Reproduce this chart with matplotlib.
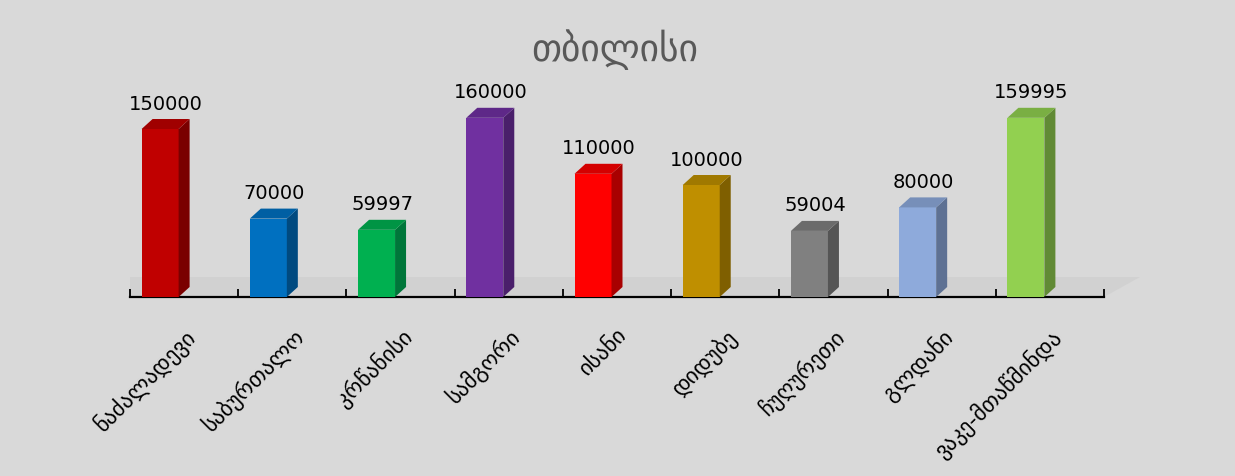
import matplotlib
matplotlib.use('Agg')
import matplotlib.pyplot as plt
from matplotlib.patches import Polygon
import numpy as np

districts = ['ნაძალადევი', 'საბურთალო', 'კრწანისი', 'სამგორი', 'ისანი',
             'დიდუბე', 'ჩუღურეთი', 'გლდანი', 'ვაკე-მთაწმინდა']
values = [150000, 70000, 59997, 160000, 110000, 100000, 59004, 80000, 159995]
front_colors = ['#C00000', '#0070C0', '#00B050', '#7030A0', '#FF0000',
                '#BF8F00', '#808080', '#8EAADB', '#92D050']
side_colors = ['#7A0000', '#004A80', '#00763A', '#4A1F6B', '#A80000',
               '#7F5F00', '#555555', '#5E7193', '#618A35']
top_colors = ['#A00000', '#005FA3', '#009444', '#5E2888', '#D40000',
              '#A07900', '#6B6B6B', '#778FB9', '#7AAF43']

W, H = 1235, 476
fig = plt.figure(figsize=(W / 100, H / 100), dpi=100, facecolor='#D9D9D9')

ax_left, ax_right, ax_bottom, ax_top = 130, 1104, 297, 73
ax = fig.add_axes([ax_left / W, 1 - ax_bottom / H,
                   (ax_right - ax_left) / W, (ax_bottom - ax_top) / H])
ax.set_facecolor('none')
ymax = 200000
ax.set_xlim(-0.5, len(districts) - 0.5)
ax.set_ylim(0, ymax)

# pixel -> data conversion for the fake 3d depth
px_x = len(districts) / (ax_right - ax_left)
px_y = ymax / (ax_bottom - ax_top)
dx, dy = 11 * px_x, 10 * px_y
bw = 37 * px_x
shift = -24 * px_x

# floor
floor = Polygon([(-0.5, 0), (len(districts) - 0.5, 0),
                 (len(districts) - 0.5 + 36 * px_x, 20 * px_y), (-0.5, 20 * px_y)],
                closed=True, facecolor='#D1D1D1', edgecolor='none', zorder=0,
                clip_on=False)
ax.add_patch(floor)

for i, v in enumerate(values):
    x0 = i + shift - bw / 2
    x1 = x0 + bw
    ax.add_patch(Polygon([(x0, 0), (x1, 0), (x1, v), (x0, v)],
                         facecolor=front_colors[i], edgecolor='none', zorder=3))
    ax.add_patch(Polygon([(x1, 0), (x1 + dx, dy), (x1 + dx, v + dy), (x1, v)],
                         facecolor=side_colors[i], edgecolor='none', zorder=3))
    ax.add_patch(Polygon([(x0, v), (x1, v), (x1 + dx, v + dy), (x0 + dx, v + dy)],
                         facecolor=top_colors[i], edgecolor='none', zorder=3))
    ax.annotate(str(v), xy=(i + shift + dx / 2, v), xytext=(0, 18),
                textcoords='offset points', ha='center', va='center',
                fontsize=14, color='black', clip_on=False)

for s in ['top', 'right', 'left']:
    ax.spines[s].set_visible(False)
ax.spines['bottom'].set_linewidth(1.6)
ax.spines['bottom'].set_color('black')
ax.set_yticks([])

ax.set_xticks(range(len(districts)))
ax.set_xticklabels(districts, rotation=45, ha='right', rotation_mode='anchor',
                   fontsize=16)
ax.tick_params(axis='x', which='major', length=0, pad=20)
ax.set_xticks(np.arange(-0.5, len(districts), 1), minor=True)
ax.tick_params(axis='x', which='minor', direction='in', length=6, width=1.3)

fig.text(615 / W, 1 - 50 / H, 'თბილისი', ha='center', va='center',
         fontsize=27, color='#595959')

fig.savefig('out.png', dpi=100, facecolor=fig.get_facecolor())
